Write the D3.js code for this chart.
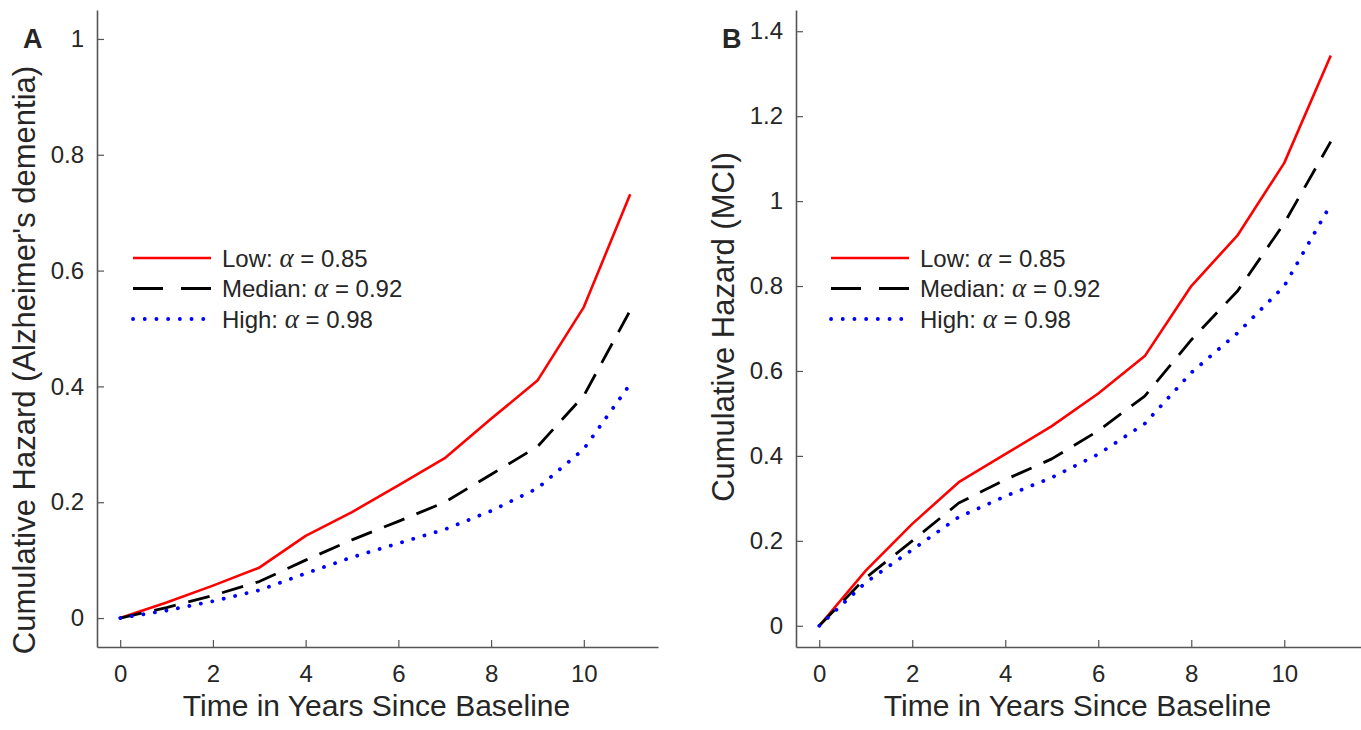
<!DOCTYPE html>
<html>
<head>
<meta charset="utf-8">
<script src="https://cdn.jsdelivr.net/npm/d3@7"></script>
<style>
  html, body { margin: 0; padding: 0; background: #fff; }
  svg { display: block; }
  text { font-family: "Liberation Sans", Arial, Helvetica, sans-serif; fill: #262626; }
</style>
</head>
<body>
<svg id="chart" width="1361" height="730"></svg>
<script>
// ---- Data ----
const years = [0, 1, 2, 3, 4, 5, 6, 7, 8, 9, 10, 11];

// Panel A: Alzheimer's dementia
const lowA    = [0, 0.027, 0.056, 0.087, 0.142, 0.183, 0.229, 0.276, 0.344, 0.410, 0.537, 0.732];
const medianA = [0, 0.018, 0.039, 0.063, 0.100, 0.135, 0.167, 0.200, 0.248, 0.296, 0.384, 0.531];
const highA   = [0, 0.013, 0.029, 0.048, 0.077, 0.105, 0.129, 0.153, 0.185, 0.224, 0.292, 0.404];

// Panel B: MCI
const lowB    = [0, 0.130, 0.240, 0.338, 0.404, 0.470, 0.547, 0.635, 0.800, 0.920, 1.090, 1.343];
const medianB = [0, 0.113, 0.200, 0.289, 0.344, 0.393, 0.459, 0.541, 0.673, 0.789, 0.948, 1.140];
const highB   = [0, 0.102, 0.179, 0.256, 0.305, 0.349, 0.404, 0.476, 0.596, 0.690, 0.800, 0.992];

const xTicks  = [0, 2, 4, 6, 8, 10];
const yTicksA = [0, 0.2, 0.4, 0.6, 0.8, 1];
const yTicksB = [0, 0.2, 0.4, 0.6, 0.8, 1, 1.2, 1.4];

const seriesNames  = ["Low", "Median", "High"];
const seriesAlphas = ["0.85", "0.92", "0.98"];

const xLabel  = "Time in Years Since Baseline";
const yLabelA = "Cumulative Hazard (Alzheimer's dementia)";
const yLabelB = "Cumulative Hazard (MCI)";

// ---- Styles ----
const styles = [
  { color: "#ff0000", dash: null,       legendDash: null,       cap: "butt",  width: 2.6 },
  { color: "#000000", dash: "22,13",    legendDash: "30,18",    cap: "butt",  width: 2.8 },
  { color: "#0000ff", dash: "0.1,11.6", legendDash: "0.1,11.6", cap: "round", width: 3.8 }
];

const svg = d3.select("#chart");
const axisColor = "#555";

function panel(cfg) {
  const g = svg.append("g");
  const x = d3.scaleLinear().domain(cfg.xDomain).range([cfg.left, cfg.right]);
  const y = d3.scaleLinear().domain(cfg.yDomain).range([cfg.bottom, cfg.top]);

  const xAxis = d3.axisBottom(x).tickValues(xTicks).tickFormat(d3.format("~g"))
    .tickSizeInner(-7).tickSizeOuter(0).tickPadding(18);
  const yAxis = d3.axisLeft(y).tickValues(cfg.yTicks).tickFormat(d3.format("~g"))
    .tickSizeInner(-7).tickSizeOuter(0).tickPadding(13);

  const gx = g.append("g").attr("transform", `translate(0,${cfg.bottom})`).call(xAxis);
  const gy = g.append("g").attr("transform", `translate(${cfg.left},0)`).call(yAxis);
  [gx, gy].forEach(a => {
    a.select(".domain").attr("stroke", axisColor).attr("stroke-width", 1.6);
    a.selectAll(".tick line").attr("stroke", axisColor).attr("stroke-width", 1.2);
    a.selectAll(".tick text").style("font-size", "24px").attr("fill", "#262626")
      .style("font-family", "'Liberation Sans', Arial, sans-serif");
  });

  const line = d3.line().x((d, i) => x(years[i])).y(d => y(d));
  cfg.series.forEach((vals, k) => {
    const s = styles[k];
    g.append("path").datum(vals)
      .attr("d", line)
      .attr("fill", "none")
      .attr("stroke", s.color)
      .attr("stroke-width", s.width)
      .attr("stroke-linecap", s.cap)
      .attr("stroke-linejoin", "round")
      .attr("stroke-dasharray", s.dash);
  });

  seriesNames.forEach((name, k) => {
    const s = styles[k];
    const ly = cfg.legendY + k * 30.5;
    g.append("line")
      .attr("x1", cfg.legendX).attr("x2", cfg.legendX + 78)
      .attr("y1", ly).attr("y2", ly)
      .attr("stroke", s.color).attr("stroke-width", s.width)
      .attr("stroke-linecap", s.cap)
      .attr("stroke-dasharray", s.legendDash);
    const t = g.append("text")
      .attr("x", cfg.legendX + 89).attr("y", ly + 8.5)
      .style("font-size", "24px");
    t.append("tspan").text(name + ": ");
    t.append("tspan").text("α").style("font-style", "italic")
      .style("font-family", "'Liberation Serif', 'Times New Roman', serif")
      .style("font-size", "27px");
    t.append("tspan").text(" = " + seriesAlphas[k]);
  });

  g.append("text")
    .attr("x", (cfg.left + cfg.right) / 2 - 1).attr("y", 716)
    .attr("text-anchor", "middle").style("font-size", "30px")
    .text(xLabel);
  g.append("text")
    .attr("transform", `translate(${cfg.yLabelX},${cfg.yLabelY}) rotate(-90)`)
    .attr("text-anchor", "middle").style("font-size", "31px")
    .text(cfg.yLabel);

  g.append("text")
    .attr("x", cfg.letterX).attr("y", 48)
    .style("font-size", "27px").style("font-weight", "bold").attr("fill", "#000")
    .text(cfg.letter);
}

panel({
  left: 97, right: 658, top: 10, bottom: 647,
  xDomain: [-0.5, 11.6], yDomain: [-0.05, 1.05],
  yTicks: yTicksA, series: [lowA, medianA, highA],
  legendX: 133, legendY: 258,
  yLabel: yLabelA, yLabelX: 35, yLabelY: 360, letter: "A", letterX: 23
});

panel({
  left: 796, right: 1361, top: 10, bottom: 647,
  xDomain: [-0.5, 11.65], yDomain: [-0.05, 1.45],
  yTicks: yTicksB, series: [lowB, medianB, highB],
  legendX: 831, legendY: 258,
  yLabel: yLabelB, yLabelX: 734, yLabelY: 327, letter: "B", letterX: 722
});
</script>
</body>
</html>
